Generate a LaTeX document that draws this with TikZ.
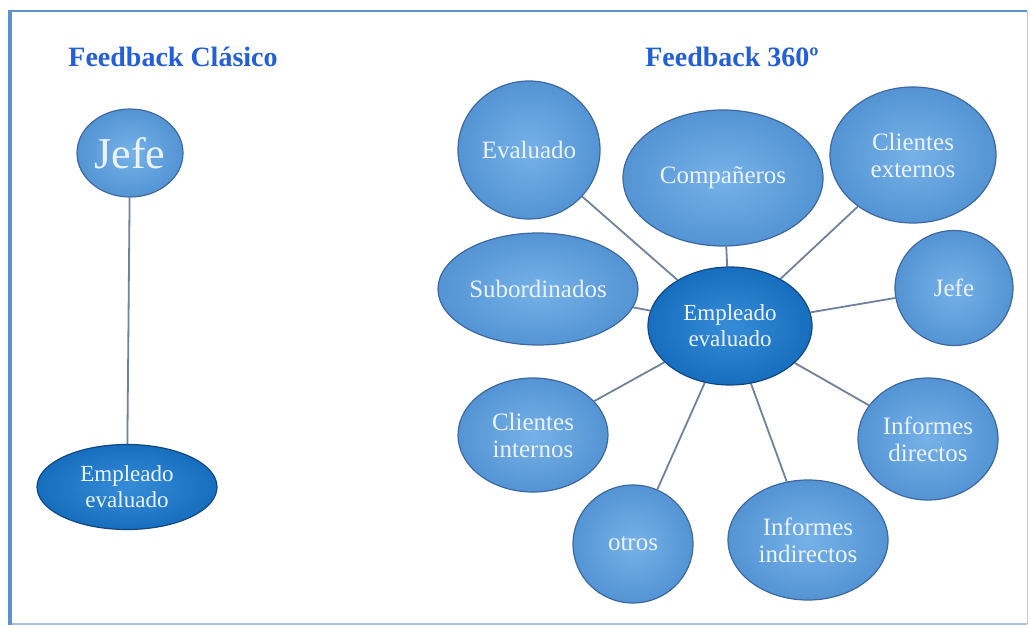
\documentclass[tikz,border=0pt]{standalone}
\usepackage{fontspec}
\setmainfont{Liberation Serif}
\usetikzlibrary{shapes.geometric}
\pgfdeclarelayer{bg}
\pgfsetlayers{bg,main}
\definecolor{frameblue}{RGB}{95,145,210}
\definecolor{titleblue}{RGB}{35,95,215}
\definecolor{bubble}{RGB}{84,148,212}
\definecolor{bubbleedge}{RGB}{62,105,160}
\definecolor{bubblelight}{RGB}{118,178,232}
\definecolor{core}{RGB}{22,110,190}
\definecolor{corelight}{RGB}{55,140,215}
\definecolor{coreedge}{RGB}{20,70,130}
\definecolor{linkc}{RGB}{112,130,155}
\definecolor{txt}{RGB}{235,242,250}
\begin{document}
\begin{tikzpicture}[x=1pt,y=-1pt,
  bub/.style={ellipse, draw=bubbleedge, line width=1.2pt, inner sep=0pt,
    inner color=bubblelight, outer color=bubble,
    text=txt, font=\fontsize{25}{27}\selectfont, align=center},
  corebub/.style={bub, draw=coreedge, inner color=corelight, outer color=core,
    font=\fontsize{23}{26}\selectfont},
  link/.style={draw=linkc, line width=1.8pt},
  ttl/.style={text=titleblue, font=\fontsize{28}{30}\selectfont\bfseries}]
\useasboundingbox (0,0) rectangle (1030,628);
\begin{pgfonlayer}{bg}
\fill[white] (0,0) rectangle (1030,628);
\draw[frameblue!55, line width=2pt] (10,624) -- (1027,624);
\draw[frameblue!45, line width=1pt] (1027,11) -- (1027,624);
\draw[frameblue, line width=2pt] (10,11) -- (1027,11);
\draw[frameblue, line width=3.5pt] (10,10) -- (10,625);
\end{pgfonlayer}
% titles
\node[ttl] (t1) at (173,57) {Feedback Clásico};
\node[ttl] (t2) at (732,57) {Feedback 360º};
% classic
\node[bub, minimum width=106pt, minimum height=88pt, font=\fontsize{44}{48}\selectfont] (jefeL) at (130,153) {Jefe};
\node[corebub, minimum width=180pt, minimum height=85pt] (empL) at (127,487) {Empleado\\evaluado};
% 360
\node[corebub, minimum width=164pt, minimum height=118pt] (emp) at (730,326) {Empleado\\evaluado};
\node[bub, minimum width=142pt, minimum height=138pt] (eval) at (529,150) {Evaluado};
\node[bub, minimum width=200pt, minimum height=136pt] (comp) at (723,178) {Compañeros};
\node[bub, minimum width=166pt, minimum height=136pt] (cext) at (913,155) {Clientes\\externos};
\node[bub, minimum width=200pt, minimum height=112pt] (sub) at (538,289) {Subordinados};
\node[bub, minimum width=118pt, minimum height=115pt] (jefe) at (954,288) {Jefe};
\node[bub, minimum width=150pt, minimum height=114pt] (cint) at (533,435) {Clientes\\internos};
\node[bub, minimum width=140pt, minimum height=122pt] (idir) at (928,439) {Informes\\directos};
\node[bub, minimum width=120pt, minimum height=118pt] (otros) at (633,544) {otros};
\node[bub, minimum width=160pt, minimum height=120pt] (iind) at (808,540) {Informes\\indirectos};
\begin{pgfonlayer}{bg}
\draw[link] (jefeL) -- (empL);
\foreach \n in {eval,comp,cext,sub,jefe,cint,idir,otros,iind}{
  \draw[link] (emp) -- (\n);
}
\end{pgfonlayer}
\end{tikzpicture}
\end{document}
